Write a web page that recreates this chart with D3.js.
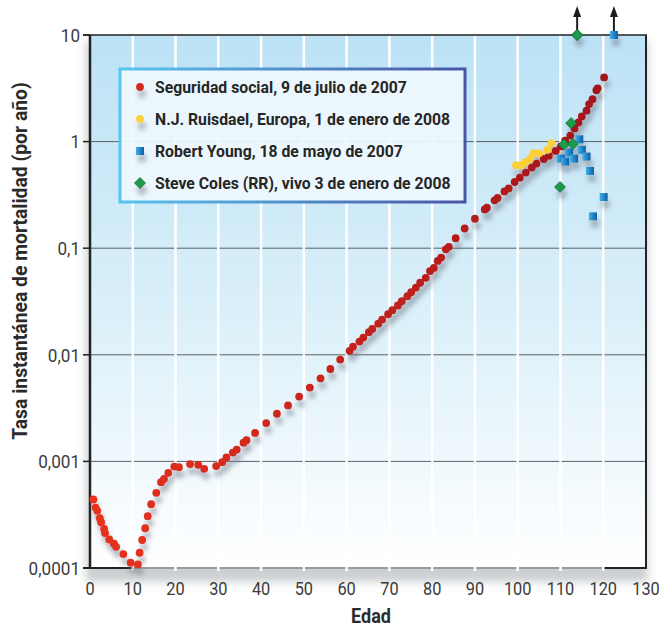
<!DOCTYPE html>
<html>
<head>
<meta charset="utf-8">
<script src="https://cdn.jsdelivr.net/npm/d3@7"></script>
<style>
  body { margin: 0; background: #fff; }
  svg { display: block; }
</style>
</head>
<body>
<div id="chart"></div>
<script>
// Seguridad social (edad, tasa)
const ssAge = [0.8, 1.3, 1.7, 2.3, 2.6, 3.3, 3.5, 4.5, 5.6, 6.1, 7.8, 9.5, 11.2, 11.6, 12.2, 12.9, 13.5, 14.3,
  15.5, 16.6, 17.3, 18.3, 19.7, 20.8, 23.4, 25.3, 26.7, 29.5, 30.9, 31.9, 33.4, 34.3, 35.9, 36.6, 38.6,
  41.2, 43.7, 46.3, 48.9, 51.4, 53.9, 56.2, 58.5, 60.7, 61.5, 63.0, 63.9, 65.2, 66.0, 67.4, 68.3, 69.7,
  70.7, 72.0, 72.9, 74.2, 75.1, 76.2, 77.2, 78.5, 79.5, 80.4, 81.3, 82.1, 83.2, 83.9, 85.5, 87.6, 90.0,
  92.3, 92.8, 94.6, 95.3, 96.9, 97.9, 99.3, 100.5, 101.9, 103.3, 104.4, 106.1, 107.3, 108.9, 110.1,
  111.1, 112.3, 113.3, 114.2, 115.0, 116.1, 116.7, 117.5, 118.4, 118.7, 120.2];
const ssRate = [0.000439, 0.000369, 0.000344, 0.000293, 0.000269, 0.000233, 0.000213, 0.000185, 0.000169,
  0.000158, 0.000135, 0.000112, 0.000108, 0.000139, 0.000183, 0.000236, 0.000306, 0.000397, 0.000507,
  0.000638, 0.000685, 0.000782, 0.000895, 0.000883, 0.000944, 0.000929, 0.000851, 0.000904, 0.000984,
  0.00109, 0.00121, 0.00129, 0.00150, 0.00158, 0.00185, 0.00229, 0.00280, 0.00335, 0.00406, 0.00493,
  0.00601, 0.00736, 0.00902, 0.0109, 0.0119, 0.0133, 0.0145, 0.0163, 0.0175, 0.0196, 0.0214, 0.0240,
  0.0262, 0.0290, 0.0318, 0.0355, 0.0386, 0.0427, 0.0474, 0.0527, 0.0610, 0.0653, 0.0759, 0.0817,
  0.0975, 0.103, 0.124, 0.153, 0.189, 0.231, 0.240, 0.281, 0.296, 0.341, 0.363, 0.418, 0.459, 0.512,
  0.570, 0.622, 0.687, 0.735, 0.818, 0.902, 1.02, 1.14, 1.33, 1.51, 1.72, 1.95, 2.25, 2.50, 3.04, 3.16, 4.00];

// N.J. Ruisdael
const njrAge = [99.6, 100.9, 101.8, 103.0, 103.7, 105.0, 106.9, 107.9];
const njrRate = [0.600, 0.600, 0.644, 0.694, 0.778, 0.778, 0.836, 0.966];

// Robert Young (10 = fuera de escala, flecha)
const ryAge = [110.1, 111.1, 112.0, 113.2, 114.4, 115.0, 116.1, 116.9, 117.6, 120.1, 122.5];
const ryRate = [0.693, 0.650, 0.791, 0.693, 1.05, 0.836, 0.724, 0.531, 0.199, 0.302, 10];

// Steve Coles (RR)
const scAge = [109.9, 110.8, 112.5, 112.9, 113.9];
const scRate = [0.375, 0.940, 1.49, 0.951, 10];

const xTicks = [0, 10, 20, 30, 40, 50, 60, 70, 80, 90, 100, 110, 120, 130];
const yTicks = [0.0001, 0.001, 0.01, 0.1, 1, 10];
const yTickLabels = ["0,0001", "0,001", "0,01", "0,1", "1", "10"];
const legendLabels = ["Seguridad social, 9 de julio de 2007", "N.J. Ruisdael, Europa, 1 de enero de 2008",
  "Robert Young, 18 de mayo de 2007", "Steve Coles (RR), vivo 3 de enero de 2008"];

const W = 659, H = 629;
const FONT = "Roboto, 'DejaVu Sans', sans-serif";
const plot = { left: 90, right: 646, top: 35, bottom: 568 };

const x = d3.scaleLinear().domain([0, 130]).range([plot.left, plot.right]);
const y = d3.scaleLog().domain([0.0001, 10]).range([plot.bottom, plot.top]);

const svg = d3.select("#chart").append("svg").attr("width", W).attr("height", H);
const defs = svg.append("defs");

// squeeze text horizontally (the original uses a condensed face)
function squeeze(sel, sx, extra) {
  sel.each(function () {
    const t = d3.select(this);
    const x0 = +t.attr("x"), y0 = +t.attr("y");
    t.attr("x", 0).attr("y", 0)
      .attr("transform", `translate(${x0},${y0}) ${extra || ""} scale(${sx},1)`);
  });
}

// background gradient
const bg = defs.append("linearGradient").attr("id", "bgGrad").attr("x1", 0).attr("y1", 0).attr("x2", 0).attr("y2", 1);
bg.append("stop").attr("offset", "0%").attr("stop-color", "#bce2f6");
bg.append("stop").attr("offset", "50%").attr("stop-color", "#d9eff9");
bg.append("stop").attr("offset", "100%").attr("stop-color", "#ffffff");

// legend border gradient
const lg = defs.append("linearGradient").attr("id", "legGrad").attr("x1", 0).attr("y1", 0).attr("x2", 1).attr("y2", 0);
lg.append("stop").attr("offset", "0%").attr("stop-color", "#58c4f0");
lg.append("stop").attr("offset", "100%").attr("stop-color", "#4955a5");

// square gradient
const sq = defs.append("linearGradient").attr("id", "sqGrad").attr("x1", 0).attr("y1", 0).attr("x2", 1).attr("y2", 0);
sq.append("stop").attr("offset", "0%").attr("stop-color", "#3eb0e8");
sq.append("stop").attr("offset", "100%").attr("stop-color", "#0b5ea3");

// dot shadow
const f = defs.append("filter").attr("id", "shadow").attr("x", "-100%").attr("y", "-100%").attr("width", "300%").attr("height", "400%");
f.append("feGaussianBlur").attr("in", "SourceAlpha").attr("stdDeviation", 2.4).attr("result", "b");
f.append("feOffset").attr("in", "b").attr("dx", 2).attr("dy", 7).attr("result", "o");
f.append("feFlood").attr("flood-color", "#6b7280").attr("flood-opacity", 0.5);
f.append("feComposite").attr("in2", "o").attr("operator", "in").attr("result", "s");
const fm = f.append("feMerge");
fm.append("feMergeNode").attr("in", "s");
fm.append("feMergeNode").attr("in", "SourceGraphic");

const fb = defs.append("filter").attr("id", "blur").attr("x", "-10%").attr("y", "-10%").attr("width", "120%").attr("height", "130%");
fb.append("feGaussianBlur").attr("stdDeviation", 4);

// plot frame shadow
svg.append("rect")
  .attr("x", plot.left - 4).attr("y", plot.top + 6)
  .attr("width", plot.right - plot.left + 6).attr("height", plot.bottom - plot.top + 8)
  .attr("fill", "#9aa0a6").attr("opacity", 0.5).attr("filter", "url(#blur)");

// plot background
svg.append("rect")
  .attr("x", plot.left).attr("y", plot.top)
  .attr("width", plot.right - plot.left).attr("height", plot.bottom - plot.top)
  .attr("fill", "url(#bgGrad)");

// horizontal grid lines
svg.append("g").selectAll("line").data(yTicks.slice(1, -1)).join("line")
  .attr("x1", plot.left).attr("x2", plot.right)
  .attr("y1", d => y(d)).attr("y2", d => y(d))
  .attr("stroke", "#5c5f63").attr("stroke-width", 1);

// bottom axis line (gray middle, dark ends)
svg.append("line").attr("x1", x(10)).attr("x2", x(120)).attr("y1", plot.bottom).attr("y2", plot.bottom)
  .attr("stroke", "#9a9a9a").attr("stroke-width", 2);
svg.append("line").attr("x1", plot.left - 7).attr("x2", x(10)).attr("y1", plot.bottom).attr("y2", plot.bottom)
  .attr("stroke", "#222").attr("stroke-width", 2);
svg.append("line").attr("x1", x(120)).attr("x2", plot.right + 1).attr("y1", plot.bottom).attr("y2", plot.bottom)
  .attr("stroke", "#222").attr("stroke-width", 2);

// vertical white grid lines
svg.append("g").selectAll("line").data(xTicks.slice(1, -1)).join("line")
  .attr("x1", d => x(d)).attr("x2", d => x(d))
  .attr("y1", plot.top + 1).attr("y2", plot.bottom + 3)
  .attr("stroke", "#ffffff").attr("stroke-width", 2.5);

// frame: top, left, right
svg.append("line").attr("x1", plot.left - 7).attr("x2", plot.right + 1).attr("y1", plot.top).attr("y2", plot.top)
  .attr("stroke", "#222").attr("stroke-width", 1.6);
svg.append("line").attr("x1", plot.left).attr("x2", plot.left).attr("y1", plot.top).attr("y2", plot.bottom + 1)
  .attr("stroke", "#222").attr("stroke-width", 2.5);
svg.append("line").attr("x1", plot.right).attr("x2", plot.right).attr("y1", plot.top).attr("y2", plot.bottom + 1)
  .attr("stroke", "#222").attr("stroke-width", 2);

// y ticks
svg.append("g").selectAll("line").data(yTicks).join("line")
  .attr("x1", plot.left - 7).attr("x2", plot.left)
  .attr("y1", d => y(d)).attr("y2", d => y(d))
  .attr("stroke", "#222").attr("stroke-width", 1.5);

const yLab = svg.append("g").selectAll("text").data(yTicks).join("text")
  .attr("x", plot.left - 10).attr("y", d => y(d)).attr("dy", "0.36em")
  .attr("text-anchor", "end").attr("font-family", FONT).attr("font-size", 19)
  .attr("fill", "#3b3b3b")
  .text((d, i) => yTickLabels[i]);
squeeze(yLab, 0.9);

const xLab = svg.append("g").selectAll("text").data(xTicks).join("text")
  .attr("x", d => x(d)).attr("y", plot.bottom + 27)
  .attr("text-anchor", "middle").attr("font-family", FONT).attr("font-size", 19)
  .attr("fill", "#3b3b3b")
  .text(d => d);
squeeze(xLab, 0.86);

// axis titles
const xTitle = svg.append("text").attr("x", (plot.left + plot.right) / 2 + 3).attr("y", 623)
  .attr("text-anchor", "middle").attr("font-family", FONT).attr("font-size", 20)
  .attr("font-weight", "bold").attr("fill", "#2b2b2b").text("Edad");
squeeze(xTitle, 0.9);

const yTitle = svg.append("text").attr("x", 27).attr("y", 261)
  .attr("text-anchor", "middle").attr("font-family", FONT).attr("font-size", 20)
  .attr("font-weight", "bold").attr("fill", "#2b2b2b").text("Tasa instantánea de mortalidad (por año)");
const yLen = yTitle.node().getComputedTextLength();
squeeze(yTitle, 358 / yLen, "rotate(-90)");

// legend
const leg = { x: 120, y: 69, w: 345, h: 133 };
svg.append("rect").attr("x", leg.x).attr("y", leg.y).attr("width", leg.w).attr("height", leg.h)
  .attr("fill", "#eef7fd").attr("fill-opacity", 0.93)
  .attr("stroke", "url(#legGrad)").attr("stroke-width", 3);

const redColor = d3.interpolateRgb("#e8331f", "#a3141a");
const symbols = [
  (g, cx, cy, c) => g.append("circle").attr("cx", cx).attr("cy", cy).attr("r", 3.9).attr("fill", c || "#d42a1e"),
  (g, cx, cy) => g.append("circle").attr("cx", cx).attr("cy", cy).attr("r", 3.9).attr("fill", "#fdd038"),
  (g, cx, cy) => g.append("rect").attr("x", cx - 4).attr("y", cy - 4).attr("width", 8).attr("height", 8).attr("fill", "url(#sqGrad)"),
  (g, cx, cy) => g.append("path").attr("d", `M${cx},${cy - 5.5}L${cx + 5.5},${cy}L${cx},${cy + 5.5}L${cx - 5.5},${cy}Z`)
    .attr("fill", "#1c9b4c").attr("stroke", "#0f6e33").attr("stroke-width", 0.8)
];

const legRows = [87, 119, 151, 183];
const legG = svg.append("g");
const legTexts = [];
legendLabels.forEach((t, i) => {
  const mg = legG.append("g").attr("filter", "url(#shadow)");
  symbols[i](mg, 140, legRows[i], "#d42a1e");
  legTexts.push(legG.append("text").attr("x", 155).attr("y", legRows[i] + 6)
    .attr("font-family", FONT).attr("font-size", 17).attr("font-weight", "bold")
    .attr("fill", "#262626").text(t));
});
const legSx = 252 / legTexts[0].node().getComputedTextLength();
legTexts.forEach(t => squeeze(t, legSx));

// data marks
const marks = svg.append("g").attr("filter", "url(#shadow)");
ssAge.forEach((a, i) => symbols[0](marks, x(a), y(ssRate[i]), redColor(a / 120)));
njrAge.forEach((a, i) => symbols[1](marks, x(a), y(njrRate[i])));
ryAge.forEach((a, i) => symbols[2](marks, x(a), y(ryRate[i])));
scAge.forEach((a, i) => symbols[3](marks, x(a), y(scRate[i])));

// arrows for off-scale values
const arrowAges = [scAge[scAge.length - 1], ryAge[ryAge.length - 1]];
const arr = svg.append("g");
arrowAges.forEach(a => {
  const cx = x(a);
  arr.append("line").attr("x1", cx).attr("x2", cx).attr("y1", plot.top - 3).attr("y2", 14)
    .attr("stroke", "#1e1e1e").attr("stroke-width", 2);
  arr.append("path").attr("d", `M${cx},6L${cx + 4},17L${cx - 4},17Z`).attr("fill", "#1e1e1e");
});
// redraw top marks above arrow shafts
symbols[3](svg, x(scAge[4]), y(scRate[4]));
symbols[2](svg, x(ryAge[10]), y(ryRate[10]));
</script>
</body>
</html>
